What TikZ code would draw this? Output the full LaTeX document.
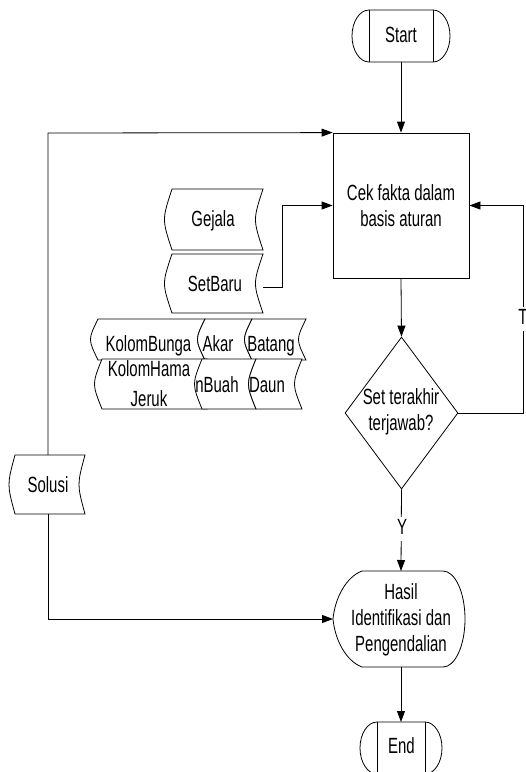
\documentclass[tikz,border=0pt]{standalone}
\usepackage{fontspec}
\setmainfont{Liberation Sans}[FakeStretch=0.68]
\usetikzlibrary{arrows.meta,shapes.geometric}
\newcommand\stdata[5]{\path[shp] ({#1+#5},#3) -- (#2,#3) .. controls ({#2-2*#5},{(#3+#4)/2}) .. (#2,#4) -- ({#1+#5},#4) .. controls ({#1-#5},{(#3+#4)/2}) .. ({#1+#5},#3) -- cycle;}
\begin{document}
\begin{tikzpicture}[x=1pt,y=-1pt,
 shp/.style={draw=black, line width=0.8pt, fill=white},
 conn/.style={draw=black, line width=0.8pt},
 arr/.style={-{Triangle[length=11pt,width=8pt]}},
 txt/.style={font=\fontsize{22}{26}\selectfont, align=center, inner sep=0pt},
 one/.style={txt, text height=16pt, text depth=4.5pt},
 lab/.style={one, fill=white, inner sep=1.5pt}]
\useasboundingbox (0,0) rectangle (526,772);

% Start terminator
\path[shp] (369,10) -- (433,10) arc[start angle=-90,end angle=90,x radius=17,y radius=26] -- (369,62) arc[start angle=90,end angle=270,x radius=17,y radius=26] -- cycle;
\draw[line width=0.8pt] (369,10) -- (369,62) (433,10) -- (433,62);
\node[one] (start) at (401,37) {Start};
\coordinate (startS) at (401,62);

% Process box
\node[shp, txt, minimum width=136pt, minimum height=145pt] (cek) at (401,205.5) {Cek fakta dalam\\basis aturan};

% Decision
\node[shp, diamond, minimum width=113pt, minimum height=152pt, inner sep=0pt] (dec) at (401.5,413) {};
\node[txt] (dectext) at (401,412.3) {Set terakhir\\terjawab?};

% Hasil (display)
\path[shp] (362,571) -- (443,571) arc[start angle=-90,end angle=90,x radius=22,y radius=48] -- (362,667) .. controls (346,661) and (335,640) .. (333,619) .. controls (335,598) and (346,577) .. (362,571) -- cycle;
\node[txt] (hasil) at (401,620.3) {Hasil\\Identifikasi dan\\Pengendalian};
\coordinate (hasilN) at (401,571);
\coordinate (hasilW) at (333,619);
\coordinate (hasilS) at (401,667);

% End terminator
\path[shp] (377,722) -- (425,722) arc[start angle=-90,end angle=90,x radius=17,y radius=26] -- (377,774) arc[start angle=90,end angle=270,x radius=17,y radius=26] -- cycle;
\draw[line width=0.8pt] (377,722) -- (377,774) (425,722) -- (425,774);
\node[one] (end) at (401.5,748) {End};
\coordinate (endN) at (401,722);

% Stored data: Gejala, SetBaru
\stdata{167}{263}{189}{250}{5}
\node[one] (gejala) at (213,221) {Gejala};
\stdata{167}{263}{254}{313}{5}
\node[one] (setbaru) at (215,286) {SetBaru};
\coordinate (sbR) at (263,287);

% Row 1
\stdata{93}{205}{319}{360}{5}
\stdata{200}{252}{319}{360}{5}
\stdata{247}{306}{319}{360}{5}
\node[one] (kbunga) at (148.5,346) {KolomBunga};
\node[one] (akar) at (218,346) {Akar};
\node[one] (batang) at (271,346) {Batang};

% Row 2
\stdata{97}{207}{359}{409}{5}
\node[txt, font=\fontsize{22}{30}\selectfont] (khama) at (149,383.7) {KolomHama\\Jeruk};
\stdata{197}{256}{359}{409}{5}
\node[one] (buah) at (217,387) {nBuah};
\stdata{251}{302}{359}{409}{5}
\node[one] (daun) at (267,387) {Daun};

% Solusi
\stdata{11}{85}{455}{514}{4}
\node[one] (solusi) at (48,487) {Solusi};
\coordinate (solN) at (48,455);
\coordinate (solS) at (48,514);

% Connectors
\draw[conn,arr] (startS) -- (cek.north);
\draw[conn,arr] (cek.south) -- (dec.north);
\draw[conn,arr] (dec.east) -- (523,413) -- (523,205.5) -- (cek.east);
\node[lab] (tlab) at (523,319) {T};
\draw[conn,arr] (dec.south) -- (hasilN);
\node[lab] (ylab) at (402,529) {Y};
\draw[conn,arr] (hasilS) -- (endN);
\draw[conn,arr] (solN) -- (48,133) -- (cek.north west);
\draw[conn,arr] (solS) -- (48,619) -- (hasilW);
\draw[conn,arr] (sbR) -- (282,287) |- (cek.west);
\end{tikzpicture}
\end{document}
